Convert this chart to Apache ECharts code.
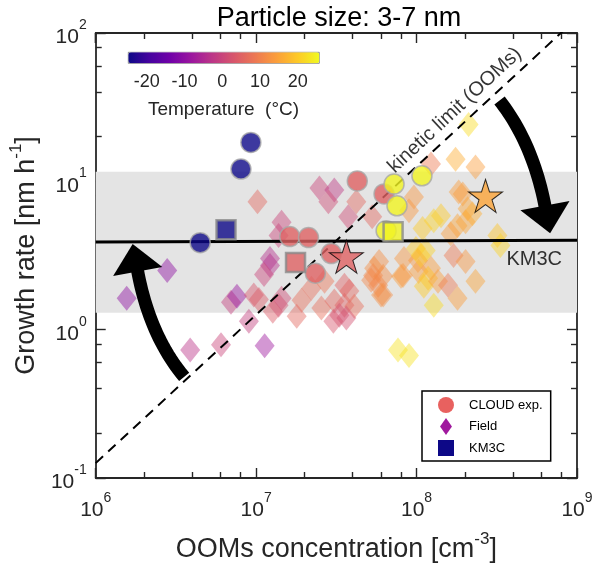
<!DOCTYPE html>
<html>
<head>
<meta charset="utf-8" />
<title>Particle size: 3-7 nm</title>
<script src="https://cdn.jsdelivr.net/npm/echarts@6/dist/echarts.min.js"></script>
<style>
  html, body { margin: 0; padding: 0; width: 600px; height: 568px; background: #fff; }
  #chart { width: 600px; height: 568px; }
</style>
</head>
<body>
<div id="chart"></div>
<script>
// ---- data: [OOMs conc. (cm-3), growth rate (nm/h), temperature (C)]
var cloudPts = [
  [9.27e6, 18.3, -25], [8.04e6, 12.1, -25], [4.48e6, 3.86, -25],
  [4.27e7, 10.05, 5], [6.27e7, 8.23, 5], [1.62e7, 4.24, 5], [2.12e7, 4.18, 5],
  [2.94e7, 3.26, 5], [2.34e7, 2.40, 5],
  [7.24e7, 9.59, 25], [1.08e8, 10.9, 25], [7.55e7, 6.84, 25], [6.46e7, 4.65, 25]
];
var km3cPts = [[6.49e6, 4.72, -25], [1.76e7, 2.84, 5], [7.14e7, 4.58, 25]];
var starPts = [[3.65e7, 3.11, 5], [2.69e8, 7.98, 15]];
var fieldPts = [
  [1.56e6, 1.63, -10], [2.79e6, 2.51, -10], [3.88e6, 0.73, -3], [6.04e6, 0.79, 0],
  [1.13e7, 0.78, -8], [1.02e7, 7.27, 6], [1.44e7, 5.3, 0], [1.38e7, 4.31, 0],
  [1.22e7, 3.02, -4], [1.22e7, 2.71, -4], [6.97e6, 1.53, -1], [7.59e6, 1.68, -9],
  [9.67e6, 1.71, 3], [1.04e7, 1.60, 4], [9.01e6, 1.14, -1], [1.27e7, 1.33, 4],
  [1.44e7, 1.63, 1], [1.38e7, 1.46, 2], [2.48e7, 9.02, 0], [3.07e7, 8.75, -2],
  [2.82e7, 7.27, 1], [4.21e7, 7.27, 6], [3.75e7, 5.77, 1], [5.29e7, 5.77, 6],
  [1.12e7, 2.35, 0], [1.92e7, 1.58, 7], [2.21e7, 1.90, 7], [2.55e7, 1.40, 7],
  [2.67e7, 2.12, 8], [3.07e7, 1.56, 6], [3.55e7, 1.46, 5], [3.30e7, 1.25, 2],
  [3.81e7, 1.82, 6], [4.09e7, 1.44, 7], [3.55e7, 1.99, 5], [5.44e7, 2.59, 12],
  [6.19e7, 2.29, 12], [5.21e7, 2.15, 11], [6.19e7, 1.71, 12], [8.0e7, 2.29, 14],
  [1.28e8, 1.46, 22], [7.66e7, 0.73, 23], [8.97e7, 0.67, 23], [1.23e8, 13.1, 9],
  [1.75e8, 14.1, 16], [2.33e8, 12.5, 14], [9.63e7, 7.85, 13], [8.97e7, 6.33, 13],
  [1.42e8, 5.86, 20], [1.28e8, 5.42, 21], [1.09e8, 4.80, 20], [1.80e8, 5.02, 15],
  [1.94e8, 8.23, 14], [2.08e8, 6.53, 15], [1.63e8, 4.44, 14], [9.91e7, 3.52, 20],
  [1.14e8, 3.42, 21], [1.02e8, 2.93, 13], [8.35e7, 3.02, 13], [5.84e7, 2.88, 12],
  [5.36e7, 2.32, 11], [5.76e7, 1.99, 11], [6.01e7, 1.71, 12], [8.23e7, 2.32, 13],
  [1.03e8, 2.47, 14], [1.23e8, 2.59, 14], [1.18e8, 2.22, 19], [1.11e8, 1.96, 20],
  [1.36e8, 2.12, 14], [1.57e8, 1.99, 9], [1.70e8, 3.16, 9], [2.02e8, 2.88, 13],
  [2.33e8, 2.12, 15], [1.80e8, 1.63, 14], [2.11e8, 24.2, 22], [1.83e8, 8.48, 14],
  [2.02e8, 5.34, 15], [2.23e8, 6.04, 16], [3.19e8, 4.31, 19], [3.33e8, 3.69, 21],
  [1.06e8, 3.16, 20], [1.79e7, 1.23, 6], [3.03e7, 1.14, 3], [3.65e7, 1.20, 2]
];
var km3cLine = [[1e6, 3.9], [1e9, 4.0]];
var kineticLine = [[1e6, 0.126], [1e9, 126]];
var grayBand = [1.30, 11.6];
// arrows: tail x,y / bend x,y / tip x,y
var arrows = [
  [3.56e6, 0.48, 2.16e6, 0.917, 1.70e6, 3.78],
  [3.29e8, 35.1, 5.34e8, 17.9, 6.80e8, 4.47]
];
var notes = [
  { at: [1.73e8, 30.1], text: 'kinetic limit (OOMs)', rotate: 43, size: 20 },
  { at: [5.41e8, 2.95], text: 'KM3C', rotate: 0, size: 20 }
];
var tempRange = [-25, 25.6];
var tempTicks = [-20, -10, 0, 10, 20];
var minorX = [2e6, 4e6, 6e6, 8e6, 2e7, 4e7, 6e7, 8e7, 2e8, 4e8, 6e8, 8e8];
var minorY = [0.2, 0.4, 0.6, 0.8, 2, 4, 6, 8, 20, 40, 60, 80];

var plasma = ['#0d0887', '#46039f', '#7201a8', '#9c179e', '#bd3786',
  '#d8576b', '#ed7953', '#fb9f3a', '#fdca26', '#f0f921'];
var ink = '#262626';
var font = 'Arial, "Liberation Sans", sans-serif';
var starPath = 'path://M50,2 L61.2,36.5 L97.6,36.5 L68.2,57.9 L79.4,92.4 L50,71.1 L20.6,92.4 L31.8,57.9 L2.4,36.5 L38.8,36.5 Z';

// superscript: base token is tall, exponent token sits at the top of the line
function supRich(base, sup, baseLH, supLH) {
  return {
    a: { fontSize: base, lineHeight: baseLH, verticalAlign: 'bottom', color: ink, fontFamily: font },
    s: { fontSize: sup, lineHeight: supLH, verticalAlign: 'top', color: ink, fontFamily: font }
  };
}
function powLabel(v) {
  return '{a|10}{s|' + Math.round(Math.log10(v)) + '}';
}

function logAxis(pos, isX, minor, withLabel) {
  var ax = {
    type: 'log', logBase: 10, position: pos,
    min: isX ? 1e6 : 0.1, max: isX ? 1e9 : 100,
    axisLine: { show: !minor, lineStyle: { color: ink, width: 1.8 } },
    axisTick: { show: true, inside: true, length: minor ? 6 : 10, lineStyle: { color: ink, width: 1.4 } },
    axisLabel: { show: false },
    splitLine: { show: false },
    minorTick: { show: false }
  };
  if (minor) ax.axisTick.customValues = isX ? minorX : minorY;
  if (withLabel) {
    ax.axisLabel = { show: true, margin: isX ? 13 : 9, formatter: powLabel, rich: supRich(21, 14, 30, 14) };
  }
  return ax;
}

var xAxes = [
  logAxis('bottom', true, false, true),
  logAxis('bottom', true, true, false),
  logAxis('top', true, false, false),
  logAxis('top', true, true, false)
];
xAxes[0].name = '{a|OOMs concentration [cm}{s|-3}{a|]}';
xAxes[0].nameLocation = 'middle';
xAxes[0].nameGap = 53;
xAxes[0].nameTextStyle = { rich: supRich(27, 17, 32, 17) };
xAxes.push({
  gridIndex: 1, type: 'value', min: tempRange[0], max: tempRange[1],
  axisLine: { show: false }, axisTick: { show: false }, splitLine: { show: false },
  axisLabel: { customValues: tempTicks, fontSize: 18, color: ink, margin: 10, fontFamily: font },
  name: 'Temperature  (°C)', nameLocation: 'middle', nameGap: 37,
  nameTextStyle: { fontSize: 19, color: ink, fontFamily: font }
});

var yAxes = [
  logAxis('left', false, false, true),
  logAxis('left', false, true, false),
  logAxis('right', false, false, false),
  logAxis('right', false, true, false)
];
yAxes[0].name = '{a|Growth rate [nm h}{s|-1}{a|]}';
yAxes[0].nameLocation = 'middle';
yAxes[0].nameGap = 51;
yAxes[0].nameTextStyle = { rich: supRich(27, 17, 32, 17) };
yAxes.push({ gridIndex: 1, type: 'value', show: false, min: 0, max: 1 });

function renderArrow(params, api) {
  var t = api.coord([api.value(0), api.value(1)]);
  var c = api.coord([api.value(2), api.value(3)]);
  var h = api.coord([api.value(4), api.value(5)]);
  var dx = h[0] - c[0], dy = h[1] - c[1];
  var len = Math.sqrt(dx * dx + dy * dy);
  var ux = dx / len, uy = dy / len;
  var headLen = 28, headW = 50;
  var b = [h[0] - ux * headLen, h[1] - uy * headLen];
  var pts = [];
  for (var i = 0; i <= 24; i++) {
    var s = i / 24;
    pts.push([
      (1 - s) * (1 - s) * t[0] + 2 * s * (1 - s) * c[0] + s * s * (b[0] + ux * 2),
      (1 - s) * (1 - s) * t[1] + 2 * s * (1 - s) * c[1] + s * s * (b[1] + uy * 2)
    ]);
  }
  return {
    type: 'group',
    children: [
      { type: 'polyline', shape: { points: pts }, style: { stroke: '#000', lineWidth: 13, fill: null } },
      { type: 'polygon', shape: { points: [h, [b[0] - uy * headW / 2, b[1] + ux * headW / 2], [b[0] + uy * headW / 2, b[1] - ux * headW / 2]] },
        style: { fill: '#000' } }
    ]
  };
}

var chart = echarts.init(document.getElementById('chart'));
var option = {
  animation: false,
  textStyle: { fontFamily: font },
  title: {
    text: 'Particle size: 3-7 nm', left: 334, top: 0, textAlign: 'center',
    textStyle: { fontSize: 27, fontWeight: 'normal', color: '#000', fontFamily: font }
  },
  grid: [
    { left: 93, right: 23, top: 33, bottom: 86 },
    { left: 128, top: 52, width: 191, height: 11 }
  ],
  xAxis: xAxes,
  yAxis: yAxes,
  visualMap: {
    type: 'continuous', min: tempRange[0], max: tempRange[1], dimension: 2,
    seriesIndex: [1, 4, 5, 6], orient: 'horizontal', left: 128, top: 52,
    itemWidth: 11, itemHeight: 191, calculable: false, hoverLink: false,
    padding: 0, borderColor: '#444', borderWidth: 0.6,
    inRange: { color: plasma }
  },
  legend: {
    orient: 'vertical', left: 422, top: 391, padding: [6, 8, 5, 16],
    itemGap: 5, itemWidth: 16, itemHeight: 17, selectedMode: false, symbolKeepAspect: true,
    backgroundColor: '#fff', borderColor: '#000', borderWidth: 1.5, borderRadius: 0,
    textStyle: { fontSize: 13, color: '#000', fontFamily: font, padding: [0, 0, 0, 10] },
    data: [
      { name: 'CLOUD exp.', icon: 'circle', itemStyle: { color: '#e8615f', borderWidth: 0, opacity: 1 } },
      { name: 'Field', icon: 'path://M7,0 L14,10 L7,20 L0,10 Z', itemStyle: { color: '#a0199e', borderWidth: 0, opacity: 1 } },
      { name: 'KM3C', icon: 'path://M0,0 L12,0 L12,12 L0,12 Z', itemStyle: { color: '#0d0887', borderWidth: 0, opacity: 1 } }
    ]
  },
  series: [
    {
      name: 'band', type: 'line', data: [], silent: true,
      markArea: {
        silent: true, itemStyle: { color: '#e4e4e4' },
        data: [[{ xAxis: 1e6, yAxis: grayBand[0] }, { xAxis: 1e9, yAxis: grayBand[1] }]]
      }
    },
    {
      name: 'Field', type: 'scatter', z: 2, symbol: 'diamond', symbolSize: [20, 25],
      itemStyle: { color: '#a0199e', opacity: 0.45 }, data: fieldPts
    },
    {
      name: 'kinetic', type: 'line', z: 3, data: kineticLine, showSymbol: false, silent: true,
      lineStyle: { color: '#000', width: 2, type: [10, 7] }
    },
    {
      name: 'KM3C fit', type: 'line', z: 3, data: km3cLine, showSymbol: false, silent: true,
      lineStyle: { color: '#000', width: 3 }
    },
    {
      name: 'CLOUD exp.', type: 'scatter', z: 4, symbol: 'circle', symbolSize: 20,
      itemStyle: { color: '#e8615f', borderColor: '#a8a8a8', borderWidth: 1.5 }, data: cloudPts
    },
    {
      name: 'KM3C', type: 'scatter', z: 4, symbol: 'rect', symbolSize: 19,
      itemStyle: { color: '#0d0887', borderColor: '#8a8a8a', borderWidth: 2.5 }, data: km3cPts
    },
    {
      name: 'model', type: 'scatter', z: 5, symbol: starPath, symbolSize: [34, 33],
      itemStyle: { color: '#e8615f', borderColor: '#000', borderWidth: 1 }, data: starPts
    },
    {
      name: 'arrows', type: 'custom', z: 6, silent: true, renderItem: renderArrow,
      encode: { x: [0, 2, 4], y: [1, 3, 5] }, data: arrows
    },
    {
      name: 'notes', type: 'scatter', z: 6, silent: true, symbolSize: 1,
      itemStyle: { color: 'rgba(0,0,0,0)' },
      data: notes.map(function (n) {
        return {
          value: n.at,
          label: {
            show: true, position: 'inside', formatter: n.text, rotate: n.rotate,
            fontSize: n.size, color: '#000', fontFamily: font
          }
        };
      })
    }
  ]
};
chart.setOption(option);
</script>
</body>
</html>
